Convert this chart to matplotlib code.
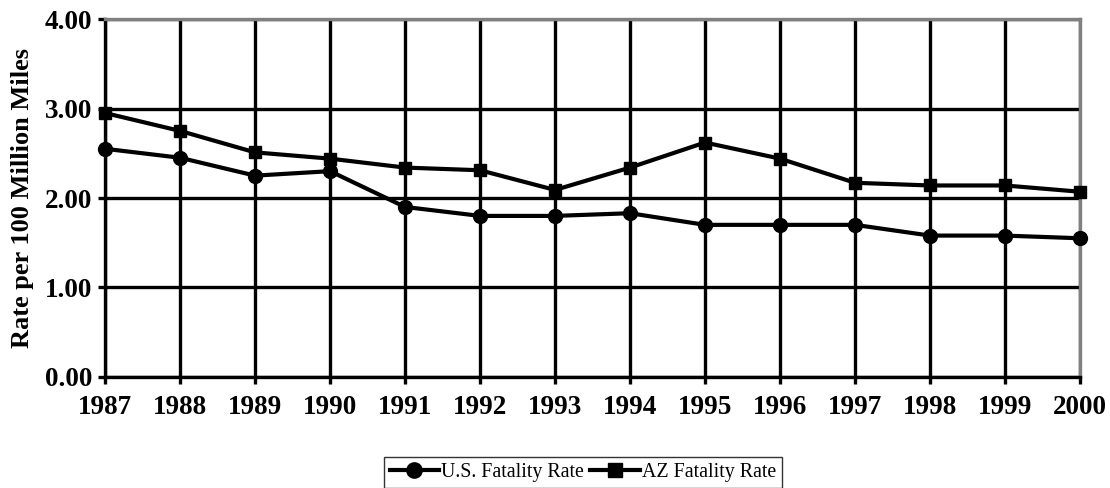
import matplotlib
matplotlib.use("Agg")
import matplotlib.pyplot as plt

years = [1987, 1988, 1989, 1990, 1991, 1992, 1993, 1994, 1995, 1996, 1997, 1998, 1999, 2000]
us_rate = [2.55, 2.45, 2.25, 2.30, 1.90, 1.80, 1.80, 1.83, 1.70, 1.70, 1.70, 1.58, 1.58, 1.55]
az_rate = [2.95, 2.75, 2.51, 2.44, 2.34, 2.31, 2.09, 2.34, 2.62, 2.44, 2.17, 2.14, 2.14, 2.07]
y_ticks = [0.0, 1.0, 2.0, 3.0, 4.0]

plt.rcParams['font.family'] = ['Liberation Serif', 'DejaVu Serif']

fig = plt.figure(figsize=(11.10, 4.88), dpi=100)
ax = fig.add_axes([0.0946, 0.2275, 0.8784, 0.7335])

ax.plot(years, us_rate, color='black', lw=3, marker='o', markersize=10, label='U.S. Fatality Rate', zorder=5, clip_on=False)
ax.plot(years, az_rate, color='black', lw=3, marker='s', markersize=9, label='AZ Fatality Rate', zorder=5, clip_on=False)

ax.set_xlim(years[0], years[-1])
ax.set_ylim(0, 4)
ax.set_xticks(years)
ax.set_xticklabels([str(y) for y in years], fontsize=19.5, fontweight='bold')
ax.set_yticks(y_ticks)
ax.set_yticklabels([f"{v:.2f}" for v in y_ticks], fontsize=19.5, fontweight='bold')
ax.grid(True, color='black', lw=2.4)
ax.set_axisbelow(True)
ax.tick_params(axis='both', length=5, width=2.4, color='black')
ax.tick_params(axis='y', pad=4)
ax.tick_params(axis='x', pad=8)
ax.set_ylabel('Rate per 100 Million Miles', fontsize=19, fontweight='bold', labelpad=8)

ax.spines['left'].set_linewidth(2.4)
ax.spines['bottom'].set_linewidth(2.4)
ax.spines['top'].set_color('#808080')
ax.spines['top'].set_linewidth(2.4)
ax.spines['right'].set_color('#808080')
ax.spines['right'].set_linewidth(2.4)

leg = fig.legend(loc='upper center', bbox_to_anchor=(0.525, 0.064), ncol=2, fontsize=14.3,
                 frameon=True, fancybox=False, edgecolor='black', handlelength=2.5,
                 handletextpad=0.1, columnspacing=0.3, borderpad=0.3, borderaxespad=0,
                 markerscale=1.1)
leg.get_frame().set_linewidth(1.0)

fig.savefig('out.png', dpi=100)
